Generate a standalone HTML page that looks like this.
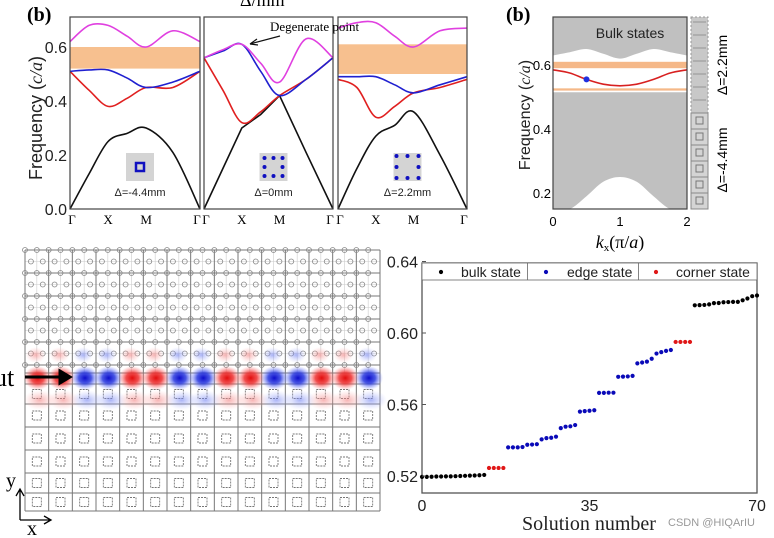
<!DOCTYPE html>
<html><head><meta charset="utf-8"><style>
html,body{margin:0;padding:0;background:#fff;width:774px;height:538px;overflow:hidden}
svg{display:block;font-family:"Liberation Sans",sans-serif}
</style></head><body>
<svg id="fig" width="774" height="538" viewBox="0 0 774 538" xmlns="http://www.w3.org/2000/svg">
<defs>
<radialGradient id="gR"><stop offset="0" stop-color="#e00000"/><stop offset="0.45" stop-color="#ee3030" stop-opacity="0.9"/><stop offset="1" stop-color="#ff8080" stop-opacity="0"/></radialGradient>
<radialGradient id="gB"><stop offset="0" stop-color="#0000c8"/><stop offset="0.45" stop-color="#2a3ae0" stop-opacity="0.9"/><stop offset="1" stop-color="#8090ff" stop-opacity="0"/></radialGradient>
<radialGradient id="gRl"><stop offset="0" stop-color="#f08080" stop-opacity="0.6"/><stop offset="1" stop-color="#ffb0b0" stop-opacity="0"/></radialGradient>
<radialGradient id="gBl"><stop offset="0" stop-color="#7080f0" stop-opacity="0.6"/><stop offset="1" stop-color="#b0b8ff" stop-opacity="0"/></radialGradient>
</defs>
<g id="bands"></g>
<g id="edge"></g>
<g id="field"></g>
<g id="scatter"></g>
</svg>
<script>
// ---------- scatter data ----------
const solIndex = [0,1,2,3,4,5,6,7,8,9,10,11,12,13,14,15,16,17,18,19,20,21,22,23,24,25,26,27,28,29,30,31,32,33,34,35,36,37,38,39,40,41,42,43,44,45,46,47,48,49,50,51,52,53,54,55,56,57,58,59,60,61,62,63,64,65,66,67,68,69,70];
const solFreq = [0.5195,0.5195,0.5196,0.5197,0.5197,0.5198,0.5198,0.5199,0.5200,0.5201,0.5202,0.5203,0.5204,0.5206,
 0.5245,0.5245,0.5245,0.5245,
 0.5360,0.5360,0.5360,0.5362,0.5375,0.5376,0.5378,0.5405,0.5412,0.5414,0.5420,0.5468,0.5476,0.5478,0.5485,
 0.5560,0.5563,0.5565,0.5568,0.5665,0.5665,0.5666,0.5666,0.5755,0.5756,0.5757,0.5760,0.5830,0.5835,0.5840,0.5856,0.5885,0.5893,0.5900,0.5905,
 0.5950,0.5950,0.5950,0.5950,
 0.6155,0.6156,0.6157,0.6160,0.6167,0.6168,0.6172,0.6173,0.6174,0.6174,0.6183,0.6193,0.6206,0.6210];
const solState = [];
for (let i=0;i<solIndex.length;i++){solState.push(i<14?'bulk':i<18?'corner':i<53?'edge':i<57?'corner':'bulk');}
const yTicks = [0.52,0.56,0.60,0.64];
const xTicks = [0,35,70];
const legendLabels = ['bulk state','edge state','corner state'];

// ---------- band data (k samples along Γ-X-M-Γ) ----------
const kSamples = [0,0.5,1,1.5,2,2.7,3.414];
const p1Black=[0,0.13,0.25,0.28,0.30,0.21,0], p1Red=[0.51,0.44,0.38,0.41,0.45,0.45,0.51], p1Blue=[0.51,0.515,0.515,0.485,0.45,0.47,0.51], p1Mag=[0.62,0.68,0.68,0.64,0.60,0.66,0.62];
const p2Black=[0,0.15,0.30,0.35,0.42,0.21,0], p2Red=[0.56,0.44,0.32,0.36,0.42,0.48,0.56], p2Blue=[0.56,0.585,0.61,0.51,0.42,0.48,0.56], p2Mag=[0.56,0.59,0.61,0.54,0.47,0.63,0.56];
const p3Black=[0,0.15,0.27,0.31,0.36,0.2,0], p3Red=[0.48,0.45,0.34,0.38,0.43,0.45,0.48], p3Blue=[0.49,0.49,0.49,0.46,0.43,0.46,0.49], p3Mag=[0.67,0.69,0.69,0.64,0.60,0.66,0.67];
const bandGaps = [[0.52,0.60],null,[0.50,0.61]];
const deltaLabels = ['Δ=-4.4mm','Δ=0mm','Δ=2.2mm'];
const freqTicks = [0.0,0.2,0.4,0.6];
// edge panel
const kxSamples=[0,0.25,0.5,0.75,1,1.25,1.5,1.75,2];
const edgeFreq=[0.585,0.575,0.555,0.54,0.535,0.54,0.555,0.575,0.585];
const upperBulk=[0.63,0.64,0.65,0.635,0.62,0.635,0.65,0.64,0.63];
const lowerBulkPeak=[0.15,0.15,0.19,0.235,0.25,0.235,0.19,0.15,0.15];
const edgeTicks=[0.2,0.4,0.6];

const NS='http://www.w3.org/2000/svg';
function mk(tag,attrs,parent){const e=document.createElementNS(NS,tag);for(const k in attrs)e.setAttribute(k,attrs[k]);parent.appendChild(e);return e;}
function smooth(pts){let d='M'+pts[0][0]+','+pts[0][1];for(let i=0;i<pts.length-1;i++){const p0=pts[Math.max(0,i-1)],p1=pts[i],p2=pts[i+1],p3=pts[Math.min(pts.length-1,i+2)];const c1=[p1[0]+(p2[0]-p0[0])/6,p1[1]+(p2[1]-p0[1])/6],c2=[p2[0]-(p3[0]-p1[0])/6,p2[1]-(p3[1]-p1[1])/6];d+=' C'+c1[0]+','+c1[1]+' '+c2[0]+','+c2[1]+' '+p2[0]+','+p2[1];}return d;}

// ---------- band panels ----------
(function(){
const g=document.getElementById('bands');
const fy=v=>209-v*270;
const panels=[[70,200,[p1Black,p1Red,p1Blue,p1Mag]],[204,333,[p2Black,p2Red,p2Blue,p2Mag]],[338,467,[p3Black,p3Red,p3Blue,p3Mag]]];
const cols=['#111','#e02020','#2020d0','#e040e0'];
const t=mk('text',{x:27,y:21,'font-family':'Liberation Serif','font-weight':'bold','font-size':20},g);t.textContent='(b)';

const tt=mk('text',{x:240,y:6,'font-family':'Liberation Serif','font-size':18},g);tt.textContent='Δ/mm';

panels.forEach((p,pi)=>{
 const [x0,x1,ser]=p;const fx=k=>x0+k/3.414*(x1-x0);
 const gap=bandGaps[pi];
 if(gap){const r=mk('rect',{x:x0,y:fy(gap[1]),width:x1-x0,height:fy(gap[0])-fy(gap[1]),fill:'#f7c08f'},g);
  }
 ser.forEach((s,si)=>{const pts=s.map((v,i)=>[fx(kSamples[i]),fy(v)]);
  let d;if(si===0&&pi===1){d='M'+pts.map(q=>q.join(',')).join(' L');}else d=smooth(pts);
  const pa=mk('path',{d:d,fill:'none',stroke:cols[si],'stroke-width':1.6},g);
  });
 const fr=mk('rect',{x:x0,y:17,width:x1-x0,height:192,fill:'none',stroke:'#444','stroke-width':1.2},g);
 
 const cx=(x0+x1)/2+5;
 const ins=mk('rect',{x:cx-14,y:153,width:28,height:28,fill:'#d4d4d4'},g);
 
 if(pi===0){const q=mk('rect',{x:cx-4,y:163,width:8,height:8,fill:'none',stroke:'#1010c0','stroke-width':2.5},g);}
 else{const sp=pi===1?9:11;for(let a=-1;a<=1;a++)for(let b=-1;b<=1;b++){if(a===0&&b===0)continue;const c=mk('circle',{cx:cx+a*sp,cy:167+b*sp,r:2,fill:'#1010c0'},g);}}
 const dl=mk('text',{x:cx,y:196,'font-size':11,'text-anchor':'middle',fill:'#222'},g);dl.textContent=deltaLabels[pi];
 
 [['Γ',0],['X',1],['M',2],['Γ',3.414]].forEach(([n,k])=>{const tx=mk('text',{x:fx(k)+(k===0?2:k>3?-3:0),y:224,'font-family':'Liberation Serif','font-size':13,'text-anchor':'middle'},g);tx.textContent=n;
  });
});
freqTicks.forEach(v=>{const tx=mk('text',{x:67,y:fy(v)+6,'font-size':16,'text-anchor':'end',fill:'#222'},g);tx.textContent=v.toFixed(1);
 });
const yl=mk('text',{x:0,y:0,'font-size':18,'text-anchor':'middle',fill:'#222',transform:'translate(42,118) rotate(-90)'},g);yl.innerHTML='Frequency (<tspan font-family="Liberation Serif" font-style="italic">c/a</tspan>)';

const an=mk('text',{x:270,y:31,'font-family':'Liberation Serif','font-size':13},g);an.textContent='Degenerate point';

const ar=mk('path',{d:'M280,36 L250,44 M250,44 l7,-5 M250,44 l8,1',stroke:'#111','stroke-width':1.2,fill:'none'},g);

})();

// ---------- edge panel ----------
(function(){
const g=document.getElementById('edge');
const x0=553,x1=687,fx=k=>x0+k/2*(x1-x0),fy=v=>65-(v-0.6)*320;
const bg=mk('rect',{x:x0,y:17,width:x1-x0,height:192,fill:'#c0c0c0'},g);
const top=kxSamples.map((k,i)=>[fx(k),fy(upperBulk[i])]);
const wp=mk('path',{d:smooth(top)+' L'+x1+','+fy(0.515)+' L'+x0+','+fy(0.515)+' Z',fill:'#fff'},g);
const bot=kxSamples.map((k,i)=>[fx(k),fy(lowerBulkPeak[i])]);
const bp=mk('path',{d:smooth(bot)+' Z',fill:'#fff'},g);
[[0.59,0.61],[0.52,0.527]].forEach(b=>{const r=mk('rect',{x:x0,y:fy(b[1]),width:x1-x0,height:fy(b[0])-fy(b[1]),fill:'#f5b888'},g);});
const ec=mk('path',{d:smooth(kxSamples.map((k,i)=>[fx(k),fy(edgeFreq[i])])),fill:'none',stroke:'#d82020','stroke-width':1.6},g);
const dot=mk('circle',{cx:fx(0.5),cy:fy(edgeFreq[2]),r:3,fill:'#2030e0'},g);
const fr=mk('rect',{x:x0,y:17,width:x1-x0,height:192,fill:'none',stroke:'#444','stroke-width':1.2},g);
const bt=mk('text',{x:630,y:38,'font-size':14,'text-anchor':'middle',fill:'#222'},g);bt.textContent='Bulk states';
edgeTicks.forEach(v=>{const t=mk('text',{x:551,y:fy(v)+5,'font-size':13,'text-anchor':'end'},g);t.textContent=v.toFixed(1);});
[0,1,2].forEach(v=>{const t=mk('text',{x:fx(v),y:226,'font-size':13,'text-anchor':'middle'},g);t.textContent=v;});
const yl=mk('text',{x:0,y:0,'font-size':16,'text-anchor':'middle',fill:'#222',transform:'translate(530,115) rotate(-90)'},g);yl.innerHTML='Frequency (<tspan font-family="Liberation Serif" font-style="italic">c/a</tspan>)';
const xl=mk('text',{x:620,y:248,'font-family':'Liberation Serif','font-size':18,'text-anchor':'middle'},g);xl.innerHTML='<tspan font-style="italic">k</tspan><tspan font-size="11" dy="3">x</tspan><tspan dy="-3">(π/</tspan><tspan font-style="italic">a</tspan>)';
const pl=mk('text',{x:506,y:21,'font-family':'Liberation Serif','font-weight':'bold','font-size':20},g);pl.textContent='(b)';
const st=mk('rect',{x:691,y:17,width:17,height:96,fill:'#c8c8c8',stroke:'#999','stroke-dasharray':'2,2'},g);
for(let i=0;i<6;i++){const c=mk('rect',{x:691,y:113+i*16,width:17,height:16,fill:'#d4d4d4',stroke:'#888'},g);
 const q=mk('rect',{x:696,y:117+i*16,width:7,height:7,fill:'none',stroke:'#777'},g);}
for(let i=0;i<7;i++){const l=mk('line',{x1:693,x2:706,y1:22+i*13,y2:22+i*13,stroke:'#888','stroke-width':0.8},g);}
[['Δ=2.2mm',65],['Δ=-4.4mm',160]].forEach(([s,y])=>{const t=mk('text',{x:0,y:0,'font-size':14,'text-anchor':'middle',transform:'translate(727,'+y+') rotate(-90)'},g);t.textContent=s;});
})();

// ---------- field map ----------
(function(){
const g=document.getElementById('field');
const x0=25,x1=380,cw=(x1-x0)/15;
for(let r=0;r<11;r++){const y=250+r*11.5;const l=mk('line',{x1:x0,x2:x1,y1:y,y2:y,stroke:r%2?'#ccc':'#777','stroke-width':r%2?0.6:1},g);}
for(let c=0;c<=30;c++){const x=x0+c*cw/2;const l=mk('line',{x1:x,x2:x,y1:250,y2:373,stroke:c%2?'#ccc':'#777','stroke-width':c%2?0.6:1},g);}
for(let r=0;r<11;r++)for(let c=0;c<30;c++){const o=mk('circle',{cx:x0+c*cw/2+(r%2?cw/4:0),cy:250+r*11.5,r:2.5,fill:'none',stroke:'#888','stroke-width':0.8},g);}
const rows=[373,384,404,427,450,473,493,511];
rows.forEach(y=>{const l=mk('line',{x1:x0,x2:x1,y1:y,y2:y,stroke:'#777','stroke-width':1},g);});
for(let c=0;c<=15;c++){const l=mk('line',{x1:x0+c*cw,x2:x0+c*cw,y1:373,y2:511,stroke:'#777','stroke-width':1},g);}
for(let r=1;r<rows.length-1;r++)for(let c=0;c<15;c++){const cy=(rows[r]+rows[r+1])/2;const q=mk('rect',{x:x0+c*cw+cw/2-4.5,y:cy-4.5,width:9,height:9,fill:'none',stroke:'#777','stroke-width':0.9,'stroke-dasharray':'2,1'},g);}
const blobs=['R','R','B','B'];
for(let i=0;i<15;i++){const cx=x0+cw*(i+0.45);const t=blobs[i%4];
 const l1=mk('ellipse',{cx:cx+4,cy:400,rx:16,ry:10,fill:'url(#g'+t+'l)'},g);
 const l2=mk('ellipse',{cx:cx,cy:355,rx:10,ry:8,fill:'url(#g'+t+'l)'},g);
 const b=mk('ellipse',{cx:cx+2,cy:378,rx:14,ry:12,fill:'url(#g'+t+')','fill-opacity':0.95},g);}
const it=mk('text',{x:-6,y:386,'font-family':'Liberation Serif','font-size':26},g);it.textContent='ut';
const ar=mk('path',{d:'M25,377 L64,377 M70,377 l-10,-6 l0,12 z',stroke:'#000','stroke-width':3,fill:'#000'},g);
const ax=mk('path',{d:'M20,520 L20,490 M16,496 L20,489 L24,496 M20,520 L50,520 M44,516 L51,520 L44,524',stroke:'#000','stroke-width':1.3,fill:'none'},g);
const yt=mk('text',{x:6,y:487,'font-family':'Liberation Serif','font-size':20},g);yt.textContent='y';
const xt=mk('text',{x:27,y:535,'font-family':'Liberation Serif','font-size':20},g);xt.textContent='x';
})();

// ---------- scatter ----------
(function(){
const g=document.getElementById('scatter');
const L=422,R=757,T=263,B=493;
const sx=v=>L+(v-0)/70*(R-L);
const sy=v=>476-(v-0.52)/0.04*71.5;
const fr=mk('rect',{x:L,y:T,width:R-L,height:B-T,fill:'#fff',stroke:'#555','stroke-width':1.3},g);
const col={bulk:'#000',edge:'#0a0ab8',corner:'#e01818'};
solIndex.forEach((n,i)=>{const c=mk('circle',{cx:sx(n),cy:sy(solFreq[i]),r:2.1,fill:col[solState[i]]},g);
 
 });
yTicks.forEach(v=>{const t=mk('text',{x:418,y:sy(v)+6,'font-size':16,'text-anchor':'end',fill:'#222'},g);t.textContent=v.toFixed(2);
 
 const tk=mk('line',{x1:L,x2:L+4,y1:sy(v),y2:sy(v),stroke:'#555'},g);});
xTicks.forEach(v=>{const t=mk('text',{x:sx(v),y:511,'font-size':16,'text-anchor':'middle',fill:'#222'},g);t.textContent=v;
 });
const lg=mk('rect',{x:L,y:T,width:R-L,height:17,fill:'#fff',stroke:'#666','stroke-width':0.8},g);
[[L+105.5],[L+216.5]].forEach(([x])=>{const l=mk('line',{x1:x,x2:x,y1:T,y2:T+17,stroke:'#666','stroke-width':0.8},g);});
const lx=[[L+19,L+39],[L+124,L+145],[L+234,L+254]];const lc=['#000','#0a0ab8','#e01818'];
legendLabels.forEach((s,i)=>{const d=mk('circle',{cx:lx[i][0],cy:T+9,r:2.1,fill:lc[i]},g);
 const t=mk('text',{x:lx[i][1],y:T+14,'font-size':14,fill:'#222'},g);t.textContent=s;});
const xl=mk('text',{x:589,y:530,'font-family':'Liberation Serif','font-size':20,'text-anchor':'middle',fill:'#222'},g);xl.textContent='Solution number';
const wm=mk('text',{x:668,y:526,'font-size':11,fill:'#999'},g);wm.textContent='CSDN @HIQArIU';
})();
</script>
</body></html>
